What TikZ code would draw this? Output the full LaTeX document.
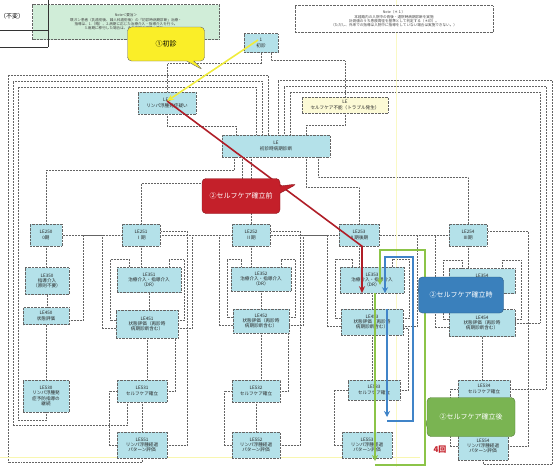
\documentclass[tikz,border=0pt]{standalone}
\usepackage{fontspec}
\setmainfont{Noto Sans CJK JP}
\usepackage{xcolor}
\usetikzlibrary{positioning, arrows.meta, shapes.callouts, backgrounds}

\definecolor{boxfill}{RGB}{180,225,233}
\definecolor{notegreen}{RGB}{208,237,216}
\definecolor{noteyellow}{RGB}{252,250,214}
\definecolor{callyellow}{RGB}{250,238,40}
\definecolor{callred}{RGB}{196,32,42}
\definecolor{callblue}{RGB}{58,128,188}
\definecolor{callgreen}{RGB}{122,180,82}
\definecolor{arrowred}{RGB}{176,30,40}
\definecolor{arrowyellow}{RGB}{240,236,60}
\definecolor{loopgreen}{RGB}{140,196,72}
\definecolor{loopblue}{RGB}{64,132,200}
\definecolor{linkgray}{RGB}{100,100,100}

\begin{document}
\begin{tikzpicture}[x=1pt,y=-1pt,
    le box/.style={draw=linkgray,densely dotted,fill=boxfill,align=center,
      font=\fontsize{4.6}{5.3}\selectfont,text=black!85,inner sep=1pt},
    wh/.style 2 args={minimum width=#1pt,minimum height=#2pt},
    link/.style={draw=linkgray,densely dotted,line width=0.5pt},
    note/.style={draw=linkgray,densely dotted,align=center,
      font=\fontsize{3.6}{4.4}\selectfont,text=black!75,inner sep=2pt},
    tag/.style={rectangle callout,rounded corners=4pt,align=center,
      font=\fontsize{7}{8}\selectfont,inner sep=2pt},
    hot arrow/.style={line width=1.6pt,-{Stealth[length=7pt,width=6pt]}},
    loop line/.style={line width=1.4pt,-{Stealth[length=6pt,width=6pt]}}]

  \useasboundingbox (0,0) rectangle (556,467);

  % faint page guides
  \draw[arrowyellow!40,line width=0.6pt] (0,457) -- (420,457);
  \draw[arrowyellow!30,line width=0.5pt] (396,0) -- (396,467);

  % notes
  \node[note,fill=notegreen,wh={187}{35}] (noteL) at (126,22)
    {Note＜要旨＞\\既ガン患者（乳癌術後、婦人科癌術後）の「初診時病期診断」治療・\\指導は、1.（略）、2.病期に応じた治療介入・指導介入を行う。\\3.病期に移行した場合は、その病期の経路へ進む。};
  \node[note,fill=white,wh={198}{27}] (noteR) at (394,19)
    {Note（＊１）\\本経路内の入院中の術後・退院時病期診断を実施\\計測値のうち患肢周径を基準として判定する（＊印）。\\（ただし、外来での指導は入院中に指導をしていない場合は実施できない。）};

  % table fragment
  \draw[black!80,line width=0.5pt] (0,30) -- (48,30) (0,47) -- (48,47) (48,0) -- (48,47);
  \node[font=\fontsize{6}{7}\selectfont] (tab) at (12,16) {（不変）};

  % top nodes
  \node[le box,wh={34}{19}] (t1) at (261,43) {1\\初診};
  \node[le box,wh={58}{22}] (le1) at (167,103) {LE1\\リンパ浮腫発症疑い};
  \node[le box,fill=noteyellow,wh={86}{16}] (care) at (345,105) {LE\\セルフケア不能（トラブル発生）};
  \node[le box,wh={108}{22}] (diag) at (276,146) {LE\\初診時病期診断};

  % stage headers
  \node[le box,wh={32}{22}] (h0) at (46,235) {LE250\\0期};
  \node[le box,wh={38}{22}] (h1) at (141,235) {LE251\\Ⅰ期};
  \node[le box,wh={38}{22}] (h2) at (251,235) {LE252\\Ⅱ期};
  \node[le box,wh={40}{22}] (h3) at (359,235) {LE253\\Ⅱ期後期};
  \node[le box,wh={38}{22}] (h4) at (468,235) {LE254\\Ⅲ期};

  % intervention
  \node[le box,wh={44}{27}] (a0) at (47,281) {LE350\\指導介入\\（原則不要）};
  \node[le box,wh={64}{25}] (a1) at (149,280) {LE351\\治療介入・指導介入\\（DR）};
  \node[le box,wh={60}{24}] (a2) at (261,279) {LE352\\治療介入・指導介入\\（DR）};
  \node[le box,wh={64}{26}] (a3) at (372,280) {LE353\\治療介入・指導介入\\（DR）};
  \node[le box,wh={66}{25}] (a4) at (482,281) {LE354\\治療介入・指導介入\\（DR）};

  % evaluation
  \node[le box,wh={46}{17}] (b0) at (46,316) {LE450\\状態評価};
  \node[le box,wh={62}{28}] (b1) at (147,324) {LE451\\状態評価（再診時\\病期診断含む）};
  \node[le box,wh={56}{24}] (b2) at (261,321) {LE452\\状態評価（再診時\\病期診断含む）};
  \node[le box,wh={62}{26}] (b3) at (372,322) {LE453\\状態評価（再診時\\病期診断含む）};
  \node[le box,wh={66}{27}] (b4) at (482,323) {LE454\\状態評価（再診時\\病期診断含む）};

  % self care
  \node[le box,wh={46}{32}] (c0) at (46,396) {LE530\\リンパ浮腫発\\症予防指導の\\継続};
  \node[le box,wh={50}{22}] (c1) at (142,391) {LE531\\セルフケア確立};
  \node[le box,wh={48}{22}] (c2) at (256,391) {LE532\\セルフケア確立};
  \node[le box,wh={52}{20}] (c3) at (374,390) {LE533\\セルフケア確立};
  \node[le box,wh={52}{18}] (c4) at (484,389) {LE534\\セルフケア確立};

  % pattern evaluation
  \node[le box,wh={50}{26}] (d1) at (142,445) {LE551\\リンパ浮腫経過\\パターン評価};
  \node[le box,wh={48}{26}] (d2) at (256,445) {LE552\\リンパ浮腫経過\\パターン評価};
  \node[le box,wh={50}{26}] (d3) at (367,445) {LE553\\リンパ浮腫経過\\パターン評価};
  \node[le box,wh={50}{28}] (d4) at (483,446) {LE554\\リンパ浮腫経過\\パターン評価};

  \begin{scope}[on background layer]
    % top part
    \draw[link] (t1.south) -- ++(0,11) -| (le1.north);
    \draw[link] ([xshift=10]t1.south) -- ++(0,8) -| (care.north);
    \draw[link] (le1.south) -- ++(0,12) -| ([xshift=-40]diag.north);
    \draw[link] (care.south) -- ++(0,12) -| ([xshift=30]diag.north);
    % outer loops back to diagnosis
    \draw[link] (d1.south) -- ++(0,4) -| (8,75) -| ([xshift=-8]diag.north);
    \draw[link] ([xshift=-15]c1.south) -- ++(0,23) -| (13,81) -| ([xshift=-14]diag.north);
    \draw[link] (c0.south) -- ++(0,8) -| (18,87) -| ([xshift=-20]diag.north);
    \draw[link] (d4.south) -- ++(0,4) -| (552,80) -| ([xshift=2]diag.north);
    \draw[link] (c4.east) -| (546,86) -| ([xshift=8]diag.north);
    \draw[link] (b4.east) -| (540,92) -| ([xshift=14]diag.north);
    % diagnosis to stages
    \draw[link] ([xshift=-42]diag.south) -- ++(0,13) -| (h0.north);
    \draw[link] ([xshift=-34]diag.south) -- ++(0,26) -| (h1.north);
    \draw[link] ([xshift=-25]diag.south) -- ([xshift=-25]diag.south |- h2.north);
    \draw[link] ([xshift=30]diag.south) -- ++(0,30) -| (h3.north);
    \draw[link] ([xshift=42]diag.south) -- ++(0,20) -| (h4.north);
    % down each column
    \foreach \i in {0,...,4} {
      \draw[link] (h\i.south) -- (h\i.south |- a\i.north);
      \draw[link] (a\i.south) -- (a\i.south |- b\i.north);
      \draw[link] (b\i.south) -- (b\i.south |- c\i.north);
    }
    \foreach \i in {1,...,4} {
      \draw[link] (c\i.south) -- (c\i.south |- d\i.north);
      \draw[link] ([yshift=4]b\i.east) -- ++(6,0) |- ([xshift=20,yshift=8]a\i.north) -- ([xshift=20]a\i.north);
      \draw[link] ([yshift=4]b\i.west) -- ++(-6,0) |- ([xshift=-20,yshift=8]a\i.north) -- ([xshift=-20]a\i.north);
      \draw[link] (d\i.west) -- ++(-8,0) |- (c\i.west);
    }
    \foreach \i in {1,2,3} {
      \draw[link] (c\i.east) -- ++(8,0) |- ([yshift=-6]b\i.east);
    }
    \foreach \i in {1,2,4} {
      \draw[link] (d\i.east) -- ++(20,0) |- ([yshift=4]h\i.east);
    }
    % stage changes
    \foreach \i/\j in {0/1,1/2,2/3,3/4} {
      \draw[link] ([yshift=-4]b\i.east) -- ++(14,0) |- (h\j.west);
    }
    \foreach \i/\j in {1/0,2/1,3/2,4/3} {
      \draw[link] ([yshift=-4]b\i.west) -- ++(-14,0) |- (h\j.east);
    }
  \end{scope}

  % marked routes
  \coordinate (bTop) at (413,257);
  \coordinate (bBot) at (413,421);
  \coordinate (gTop) at (425,250);
  \coordinate (gBot) at (425,465);

  \draw[hot arrow,arrowyellow] ([xshift=-3,yshift=3]t1.center) -- ([yshift=2]le1.center);
  \draw[hot arrow,arrowred] ([yshift=2]le1.center) -- ([xshift=3]h3.south) -- ([xshift=-10]a3.south);

  \draw[loop line,loopgreen] ([xshift=3]b3.south |- gBot) -- (gBot) -- (gTop) -| ([xshift=8,yshift=-18]a3.north);
  \draw[loop line,loopgreen] ([xshift=3]a3.south) -- ([xshift=3,yshift=4]b3.south |- gBot);
  \draw[loop line,loopblue] ([xshift=15]b3.south |- bBot) -- (bBot) -- (bTop) -| ([xshift=13]a3.south);
  \draw[loop line,loopblue] ([xshift=15]b3.north) -- ([xshift=15,yshift=4]b3.south |- bBot);

  % callouts
  \node[tag,fill=callyellow,draw=black!60,wh={77}{34},
    callout absolute pointer={(203,70)}] (cYel) at (166,44) {①初診};
  \node[tag,fill=callred,draw=callred!70!black,text=white,wh={78}{35},
    callout absolute pointer={(297,184)}] (cRed) at (241,196) {②セルフケア確立前};
  \node[tag,fill=callblue,draw=callblue!70!black,text=white,wh={85}{36},
    callout absolute pointer={(418,290)}] (cBlue) at (461,295) {②セルフケア確立時};
  \node[tag,fill=callgreen,draw=callgreen!70!black,text=white,wh={88}{39},
    callout absolute pointer={(425,424)}] (cGrn) at (471,417) {②セルフケア確立後};
  \node[text=callred,font=\fontsize{8}{9}\selectfont\bfseries] (cnt) at (440,450) {4回};
\end{tikzpicture}
\end{document}
